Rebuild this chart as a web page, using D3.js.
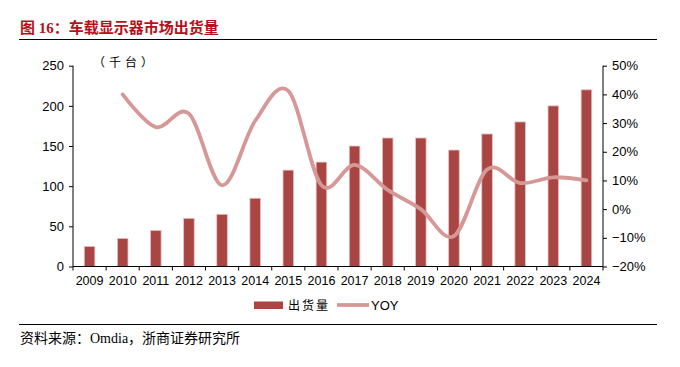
<!DOCTYPE html>
<html><head><meta charset="utf-8">
<script src="https://cdn.jsdelivr.net/npm/d3@7/dist/d3.min.js"></script>
<style>body{margin:0;background:#fff}svg{display:block}</style>
</head><body><svg id="c" width="680" height="367"></svg>
<script>
const years = ["2009","2010","2011","2012","2013","2014","2015","2016","2017","2018","2019","2020","2021","2022","2023","2024"];
const shipments = [25,35,45,60,65,85,120,130,150,160,160,145,165,180,200,220];
const yoy = [null,0.40,0.286,0.333,0.083,0.308,0.412,0.083,0.154,0.067,0.0,-0.094,0.138,0.091,0.111,0.10];
const leftTicks = [0,50,100,150,200,250];
const rightTicks = [-0.2,-0.1,0,0.1,0.2,0.3,0.4,0.5];

const svg = d3.select("#c");
const L = 73, R = 603, T = 65.7, B = 266.5;
const barColor = "#A94543", lineColor = "#D69896";
const font = "'Liberation Sans', Arial, sans-serif";
const cjk = "'Liberation Serif','Noto Sans CJK SC', serif";

// title
svg.append("text").attr("x",20).attr("y",33).attr("fill","#B8101A")
  .attr("font-family","'Liberation Serif','Noto Sans CJK SC',serif").attr("font-weight","bold").attr("font-size",15)
  .text("图 16：车载显示器市场出货量");
svg.append("line").attr("x1",19).attr("x2",657).attr("y1",39.5).attr("y2",39.5).attr("stroke","#000").attr("stroke-width",1);
svg.append("line").attr("x1",19).attr("x2",657).attr("y1",324.5).attr("y2",324.5).attr("stroke","#000").attr("stroke-width",1);
svg.append("text").attr("x",20).attr("y",343).attr("fill","#000")
  .attr("font-family",cjk).attr("font-size",14).text("资料来源：Omdia，浙商证券研究所");

const x = d3.scaleBand().domain(years).range([L,R]).paddingInner(0.68).paddingOuter(0.34);
const xb = d3.scaleBand().domain(years).range([L,R]);
const y = d3.scaleLinear().domain([0,250]).range([B,T]);
const y2 = d3.scaleLinear().domain([-0.2,0.5]).range([B,T]);

// bars
svg.append("g").selectAll("rect").data(shipments).join("rect")
  .attr("x",(d,i)=>x(years[i])).attr("width",x.bandwidth())
  .attr("y",d=>y(d)).attr("height",d=>B-y(d))
  .attr("fill",barColor).attr("stroke","#E8C4C3").attr("stroke-width",0.8);

// line
const pts = yoy.map((v,i)=>v===null?null:[xb(years[i])+xb.bandwidth()/2, y2(v)]).filter(p=>p);
svg.append("path").attr("d", d3.line().curve(d3.curveCardinal.tension(0))(pts))
  .attr("fill","none").attr("stroke",lineColor).attr("stroke-width",3.8).attr("stroke-linecap","round").attr("stroke-linejoin","round");

// axes
const gl = svg.append("g").attr("transform",`translate(${L},0)`)
  .call(d3.axisLeft(y).tickValues(leftTicks).tickSize(4).tickPadding(5));
const gr = svg.append("g").attr("transform",`translate(${R},0)`)
  .call(d3.axisRight(y2).tickValues(rightTicks).tickSize(4).tickPadding(5).tickFormat(d3.format(".0%")));
const gx = svg.append("g").attr("transform",`translate(0,${B})`)
  .call(d3.axisBottom(xb).tickSize(0).tickPadding(10));
[gl,gr].forEach(g=>{g.selectAll("text").attr("font-family",font).attr("font-size",13).attr("fill","#000");
  g.selectAll("line,path").attr("stroke","#000");});
gl.select(".domain").attr("d",`M-0,${T}V${B}`);
gr.select(".domain").attr("d",`M0,${T}V${B}`);
gx.selectAll("text").attr("font-family",font).attr("font-size",12.5).attr("fill","#000");
gx.select(".domain").attr("stroke","#000").attr("d",`M${L},0H${R}`);
// category tick marks between bars
gx.append("g").selectAll("line").data(d3.range(years.length+1)).join("line")
  .attr("x1",i=>L+i*xb.step()).attr("x2",i=>L+i*xb.step()).attr("y1",0).attr("y2",4).attr("stroke","#000");

// unit label
svg.append("text").attr("x",93).attr("y",67).attr("font-family","'Noto Sans CJK SC',sans-serif").attr("font-size",12)
  .attr("letter-spacing",4).text("（千台）");

// legend
svg.append("rect").attr("x",254).attr("y",301.5).attr("width",29).attr("height",7.5).attr("fill",barColor);
svg.append("text").attr("x",288).attr("y",310).attr("font-family","'Noto Sans CJK SC',sans-serif").attr("font-size",12)
  .attr("letter-spacing",2).text("出货量");
svg.append("line").attr("x1",337).attr("x2",369).attr("y1",305).attr("y2",305).attr("stroke",lineColor).attr("stroke-width",3.8);
svg.append("text").attr("x",371).attr("y",310).attr("font-family",font).attr("font-size",13).text("YOY");
</script></body></html>
